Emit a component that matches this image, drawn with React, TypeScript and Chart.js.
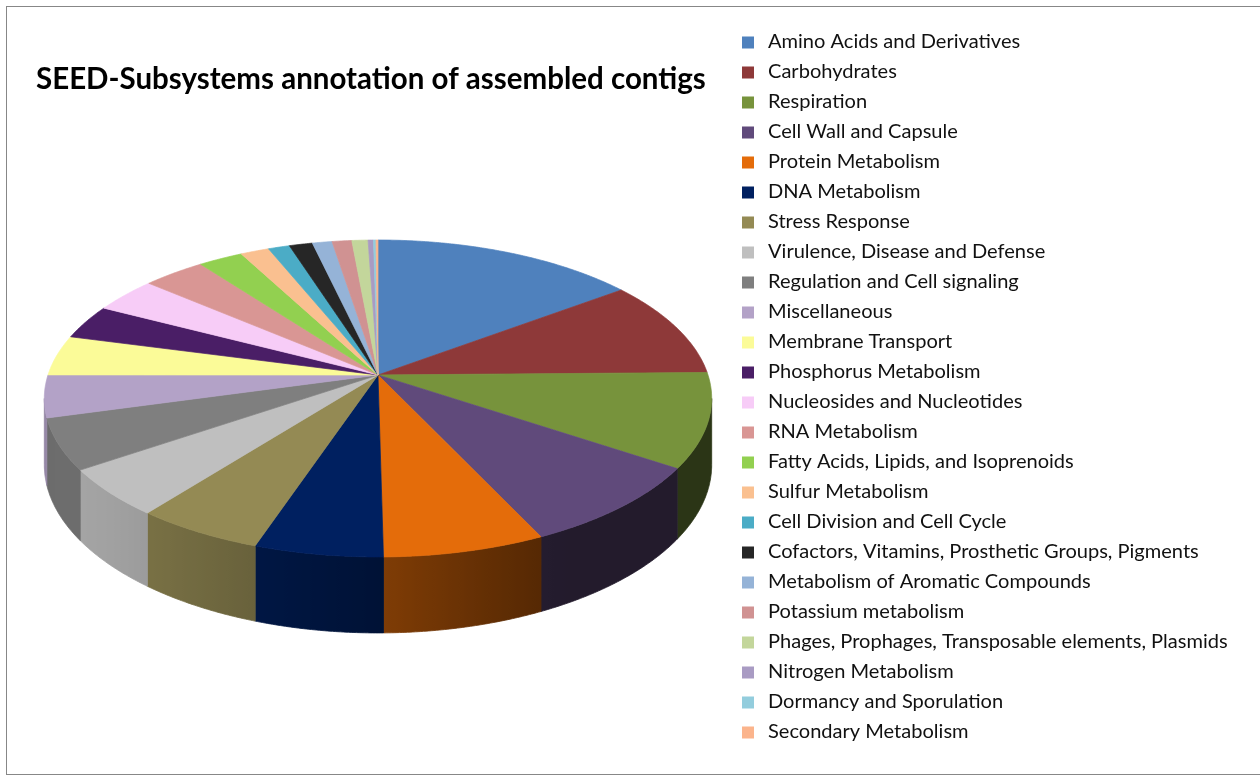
import { useEffect, useRef } from "react";
import { Chart, registerables } from "chart.js";

Chart.register(...registerables);

// SEED subsystem categories (level 1), largest first
const categories = [
  "Amino Acids and Derivatives",
  "Carbohydrates",
  "Respiration",
  "Cell Wall and Capsule",
  "Protein Metabolism",
  "DNA Metabolism",
  "Stress Response",
  "Virulence, Disease and Defense",
  "Regulation and Cell signaling",
  "Miscellaneous",
  "Membrane Transport",
  "Phosphorus Metabolism",
  "Nucleosides and Nucleotides",
  "RNA Metabolism",
  "Fatty Acids, Lipids, and Isoprenoids",
  "Sulfur Metabolism",
  "Cell Division and Cell Cycle",
  "Cofactors, Vitamins, Prosthetic Groups, Pigments",
  "Metabolism of Aromatic Compounds",
  "Potassium metabolism",
  "Phages, Prophages, Transposable elements, Plasmids",
  "Nitrogen Metabolism",
  "Dormancy and Sporulation",
  "Secondary Metabolism",
];

// share of annotated contigs per category (%)
const shares = [
  14.8, 9.9, 9.6, 8.6, 6.8, 5.4, 5.4, 4.9, 5.2, 4.3, 4.1, 3.5,
  3.6, 3.5, 2.5, 1.6, 1.2, 1.3, 1.1, 1.1, 0.9, 0.3, 0.14, 0.11,
];

const sliceColors = [
  "#4F81BD", "#8E3939", "#77933C", "#604A7B", "#E46C0A", "#002060",
  "#948A54", "#BFBFBF", "#7F7F7F", "#B3A2C7", "#FBFB98", "#4A1E66",
  "#F7CCF7", "#D99694", "#92D050", "#FAC090", "#4BACC6", "#262626",
  "#95B3D7", "#D09292", "#C3D69B", "#A99BC3", "#93CDDD", "#FBB48C",
];

const TITLE = "SEED-Subsystems annotation of assembled contigs";

// Perspective view of the tilted disc: apex, radii, foreshortening, thickness
const CX = 378;
const CY = 375;
const RX = 330;
const RY = 155;
const PERSP = 0.1482;
const DEPTH = 64.7;

// theta measured clockwise from the far (top) side of the disc
function rim(theta: number): [number, number, number] {
  const s = Math.sin(theta);
  const c = Math.cos(theta);
  const d = 1 + PERSP * c;
  return [CX + (RX * s) / d, CY - (RY * c) / d, d];
}

function shade(hex: string, f: number): string {
  const n = parseInt(hex.slice(1), 16);
  const r = Math.round(((n >> 16) & 255) * f);
  const g = Math.round(((n >> 8) & 255) * f);
  const b = Math.round((n & 255) * f);
  return `rgb(${r},${g},${b})`;
}

// light falls on the side wall from the front-left
function wallLight(theta: number): number {
  const c = Math.max(0, Math.cos(theta - (240 * Math.PI) / 180));
  return 0.36 + 0.5 * Math.pow(c, 1.3);
}

const STEP = (0.4 * Math.PI) / 180;

const pie3d = {
  id: "pie3d",
  beforeDraw(chart: any) {
    const ctx = chart.ctx as CanvasRenderingContext2D;
    ctx.save();
    ctx.fillStyle = "#ffffff";
    ctx.fillRect(0, 0, chart.width, chart.height);
    ctx.strokeStyle = "#878787";
    ctx.lineWidth = 1;
    ctx.strokeRect(6.5, 6.5, chart.width + 10, 768);
    ctx.restore();
  },
  beforeDatasetsDraw(chart: any) {
    const ctx = chart.ctx as CanvasRenderingContext2D;
    const meta = chart.getDatasetMeta(0);
    const colors = chart.data.datasets[0].backgroundColor as string[];
    const lo = Math.acos(-PERSP);
    const hi = 2 * Math.PI - lo;
    ctx.save();
    ctx.lineJoin = "round";

    // side wall (front half only), one shaded band per slice
    meta.data.forEach((arc: any, i: number) => {
      const t0 = Math.max(arc.startAngle + Math.PI / 2, lo);
      const t1 = Math.min(arc.endAngle + Math.PI / 2, hi);
      if (t1 <= t0) return;
      const n = Math.max(2, Math.ceil((t1 - t0) / STEP));
      const top: [number, number, number][] = [];
      for (let j = 0; j <= n; j++) top.push(rim(t0 + ((t1 - t0) * j) / n));
      const xa = top[0][0];
      const xb = top[n][0];
      const grad = ctx.createLinearGradient(xa, 0, xb === xa ? xa - 1 : xb, 0);
      const span = xb - xa || -1;
      for (let j = 0; j <= n; j += Math.max(1, Math.floor(n / 24))) {
        const t = t0 + ((t1 - t0) * j) / n;
        const pos = Math.min(1, Math.max(0, (top[j][0] - xa) / span));
        grad.addColorStop(pos, shade(colors[i], wallLight(t)));
      }
      grad.addColorStop(1, shade(colors[i], wallLight(t1)));
      ctx.beginPath();
      top.forEach(([x, y], j) => (j === 0 ? ctx.moveTo(x, y) : ctx.lineTo(x, y)));
      for (let j = n; j >= 0; j--) {
        const [x, y, d] = top[j];
        ctx.lineTo(x, y + DEPTH / d);
      }
      ctx.closePath();
      ctx.fillStyle = grad;
      ctx.strokeStyle = grad;
      ctx.lineWidth = 0.8;
      ctx.fill();
      ctx.stroke();
    });

    // top face
    meta.data.forEach((arc: any, i: number) => {
      const t0 = arc.startAngle + Math.PI / 2;
      const t1 = arc.endAngle + Math.PI / 2;
      const n = Math.max(1, Math.ceil((t1 - t0) / STEP));
      ctx.beginPath();
      ctx.moveTo(CX, CY);
      for (let j = 0; j <= n; j++) {
        const [x, y] = rim(t0 + ((t1 - t0) * j) / n);
        ctx.lineTo(x, y);
      }
      ctx.closePath();
      ctx.fillStyle = colors[i];
      ctx.strokeStyle = colors[i];
      ctx.lineWidth = 0.7;
      ctx.fill();
      ctx.stroke();
    });
    ctx.restore();
    return false;
  },
  afterDraw(chart: any) {
    const ctx = chart.ctx as CanvasRenderingContext2D;
    const labels = chart.data.labels as string[];
    const colors = chart.data.datasets[0].backgroundColor as string[];
    ctx.save();
    ctx.textAlign = "left";
    ctx.textBaseline = "alphabetic";
    ctx.fillStyle = "#000000";

    // title, sized to its line
    ctx.font = "bold 28px Lato, 'Open Sans', sans-serif";
    const tw = ctx.measureText(TITLE).width;
    const ts = (28 * 670) / tw;
    ctx.font = `bold ${ts.toFixed(2)}px Lato, 'Open Sans', sans-serif`;
    ctx.fillText(TITLE, 36, 89);

    // legend
    ctx.font = "20px Lato, 'Open Sans', sans-serif";
    let widest = 0;
    labels.forEach((l) => (widest = Math.max(widest, ctx.measureText(l).width)));
    const ls = (20 * 460) / widest;
    ctx.font = `${ls.toFixed(2)}px Lato, 'Open Sans', sans-serif`;
    labels.forEach((l, i) => {
      const y = 36.5 + 30 * i;
      ctx.fillStyle = colors[i];
      ctx.fillRect(742, y, 12, 12);
      ctx.fillStyle = "#111111";
      ctx.fillText(l, 768, y + 11.3);
    });
    ctx.restore();
  },
};

export default function App() {
  const ref = useRef<HTMLCanvasElement>(null);
  useEffect(() => {
    const chart = new Chart(ref.current as HTMLCanvasElement, {
      type: "pie",
      data: {
        labels: categories,
        datasets: [{ data: shares, backgroundColor: sliceColors, borderWidth: 0 }],
      },
      options: {
        responsive: false,
        animation: false,
        events: [],
        plugins: {
          legend: { display: false },
          tooltip: { enabled: false },
          title: { display: false },
        },
      },
      plugins: [pie3d],
    });
    return () => chart.destroy();
  }, []);
  return (
    <canvas
      ref={ref}
      width={1260}
      height={776}
      style={{ position: "fixed", left: 0, top: 0, display: "block" }}
    />
  );
}
